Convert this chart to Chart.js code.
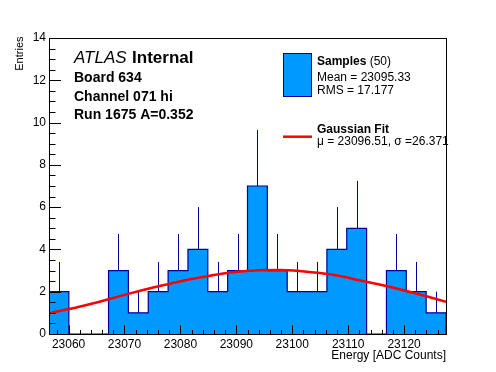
<!DOCTYPE html>
<html><head><meta charset="utf-8">
<script src="https://cdn.jsdelivr.net/npm/chart.js@4/dist/chart.umd.min.js"></script>
<style>html,body{margin:0;padding:0;background:#fff}canvas{display:block}</style>
</head><body>
<canvas id="c" width="496" height="372"></canvas>
<script>
// ---- data ----
const binLow = 23056.5;
const binWidth = 3.55;
const counts = [2,0,0,3,1,2,3,4,2,3,7,3,2,2,4,5,0,3,2,1];
const countErrors = [1.41,0,0,1.73,1,1.41,1.73,2,1.41,1.73,2.65,1.73,1.41,1.41,2,2.24,0,1.73,1.41,1];
const fitX = [23056.5,23060.3,23063.9,23067.5,23071.0,23074.6,23078.2,23081.7,23085.3,23088.9,23091.9,23094.2,23097.7,23101.3,23104.9,23108.5,23112.0,23115.6,23119.2,23122.7,23127.5];
const fitY = [0.98,1.19,1.42,1.67,1.92,2.16,2.38,2.59,2.76,2.91,2.98,3.02,3.03,2.98,2.88,2.74,2.54,2.34,2.12,1.88,1.52];
const xMajorTicks = [23060,23070,23080,23090,23100,23110,23120];
const yMajorTicks = [0,2,4,6,8,10,12,14];
const xMin = 23056.5, xMax = 23127.5, yMin = 0, yMax = 14;

const FONT = '"Liberation Sans", Arial, Helvetica, sans-serif';
const FILL = '#0099ff';
const EDGE = '#000099';

// histogram outline points (left edges, stepped)
const histPts = [{x: binLow, y: 0}];
counts.forEach((c, i) => histPts.push({x: binLow + i * binWidth, y: c}));
histPts.push({x: binLow + counts.length * binWidth, y: counts[counts.length - 1]});
histPts.push({x: binLow + counts.length * binWidth, y: 0});

const fitPts = fitX.map((x, i) => ({x, y: fitY[i]}));

const decor = {
  id: 'decor',
  afterDatasetDraw(chart, args) {
    if (args.index !== 1) return;
    const ctx = chart.ctx, xs = chart.scales.x, ys = chart.scales.y;
    ctx.save();
    ctx.strokeStyle = EDGE; ctx.lineWidth = 1;
    counts.forEach((c, i) => {
      const e = countErrors[i];
      if (!e) return;
      const px = Math.round(xs.getPixelForValue(binLow + (i + 0.5) * binWidth)) + 0.5;
      ctx.beginPath();
      ctx.moveTo(px, ys.getPixelForValue(c));
      ctx.lineTo(px, ys.getPixelForValue(c + e));
      ctx.stroke();
    });
    ctx.restore();
  },
  afterDatasetsDraw(chart) {
    const ctx = chart.ctx, a = chart.chartArea, xs = chart.scales.x, ys = chart.scales.y;
    ctx.save();
    // frame
    ctx.strokeStyle = '#000'; ctx.lineWidth = 1;
    const L = Math.round(a.left) + 0.5, R = Math.round(a.right) + 0.5, T = Math.round(a.top) + 0.5, B = Math.round(a.bottom) + 0.5;
    ctx.strokeRect(L, T, R - L, B - T);
    // x ticks
    xs.ticks.forEach(t => {
      const major = xMajorTicks.includes(t.value);
      const px = Math.round(xs.getPixelForValue(t.value)) + 0.5;
      ctx.beginPath(); ctx.moveTo(px, B); ctx.lineTo(px, B - (major ? 9 : 4.5)); ctx.stroke();
    });
    // y ticks
    ys.ticks.forEach(t => {
      const major = yMajorTicks.includes(t.value);
      const py = Math.round(ys.getPixelForValue(t.value)) + 0.5;
      ctx.beginPath(); ctx.moveTo(L, py); ctx.lineTo(L + (major ? 11.5 : 6), py); ctx.stroke();
    });
    ctx.fillStyle = '#000';
    ctx.textBaseline = 'alphabetic';
    ctx.textAlign = 'left';
    // ATLAS label
    ctx.font = 'italic 17px ' + FONT;
    ctx.fillText('ATLAS', 74, 62.7);
    const w = ctx.measureText('ATLAS').width;
    ctx.font = 'bold 17px ' + FONT;
    ctx.fillText('Internal', 74 + w + 5.5, 62.7);
    ctx.font = 'bold 14px ' + FONT;
    ctx.fillText('Board 634', 74, 81.7);
    ctx.fillText('Channel 071 hi', 74, 100.5);
    ctx.fillText('Run 1675 A=0.352', 74, 119.3);
    // legend
    ctx.fillStyle = FILL;
    ctx.fillRect(283.5, 53.5, 28, 43);
    ctx.strokeStyle = EDGE;
    ctx.strokeRect(283.5, 53.5, 28, 43);
    ctx.fillStyle = '#000';
    ctx.font = 'bold 12px ' + FONT;
    ctx.fillText('Samples', 317, 65);
    const sw = ctx.measureText('Samples').width;
    ctx.font = '12px ' + FONT;
    ctx.fillText(' (50)', 317 + sw, 65);
    ctx.fillText('Mean = 23095.33', 317, 80.5);
    ctx.fillText('RMS = 17.177', 317, 94);
    ctx.font = 'bold 12px ' + FONT;
    ctx.fillText('Gaussian Fit', 317, 133.3);
    ctx.font = '12px ' + FONT;
    ctx.fillText('\u03bc = 23096.51, \u03c3 =26.371', 317, 145);
    ctx.strokeStyle = '#ff0000'; ctx.lineWidth = 2.5;
    ctx.beginPath(); ctx.moveTo(283, 136.7); ctx.lineTo(312, 136.7); ctx.stroke();
    // axis titles
    ctx.font = '12px ' + FONT;
    ctx.textAlign = 'right';
    ctx.fillText('Energy [ADC Counts]', 446, 359);
    ctx.save();
    ctx.translate(23, 36.5);
    ctx.rotate(-Math.PI / 2);
    ctx.font = '11px ' + FONT;
    ctx.textAlign = 'right';
    ctx.fillText('Entries', 0, 0);
    ctx.restore();
    ctx.restore();
  }
};

new Chart(document.getElementById('c'), {
  type: 'line',
  data: {
    datasets: [
      {
        label: 'Gaussian Fit', data: fitPts, order: 0,
        borderColor: '#ff0000', borderWidth: 2.5, pointRadius: 0,
        cubicInterpolationMode: 'monotone', fill: false
      },
      {
        label: 'Samples', data: histPts, order: 1,
        borderColor: EDGE, borderWidth: 1.2, backgroundColor: FILL,
        stepped: 'before', pointRadius: 0, fill: 'origin', tension: 0
      }
    ]
  },
  options: {
    responsive: false, animation: false, devicePixelRatio: 1,
    layout: {padding: {top: 38, right: 50, left: 0, bottom: 0}},
    plugins: {legend: {display: false}, tooltip: {enabled: false}},
    scales: {
      x: {
        type: 'linear', min: xMin, max: xMax,
        afterBuildTicks: s => { const t = []; for (let v = 23058; v <= 23126; v += 2) t.push({value: v}); s.ticks = t; },
        afterFit: s => { s.height = 38; },
        grid: {display: false, drawTicks: false}, border: {display: false},
        ticks: {
          autoSkip: false, maxRotation: 0, minRotation: 0, padding: 3,
          color: '#000', font: {family: FONT, size: 12},
          callback: v => xMajorTicks.includes(v) ? String(v) : ''
        }
      },
      y: {
        type: 'linear', min: yMin, max: yMax,
        afterBuildTicks: s => { const t = []; for (let v = 0; v <= 14; v += 0.5) t.push({value: v}); s.ticks = t; },
        afterFit: s => { s.width = 49; },
        grid: {display: false, drawTicks: false}, border: {display: false},
        ticks: {
          autoSkip: false, padding: 3,
          color: '#000', font: {family: FONT, size: 12},
          callback: v => yMajorTicks.includes(v) ? String(v) : ''
        }
      }
    }
  },
  plugins: [decor]
});
</script>
</body></html>
